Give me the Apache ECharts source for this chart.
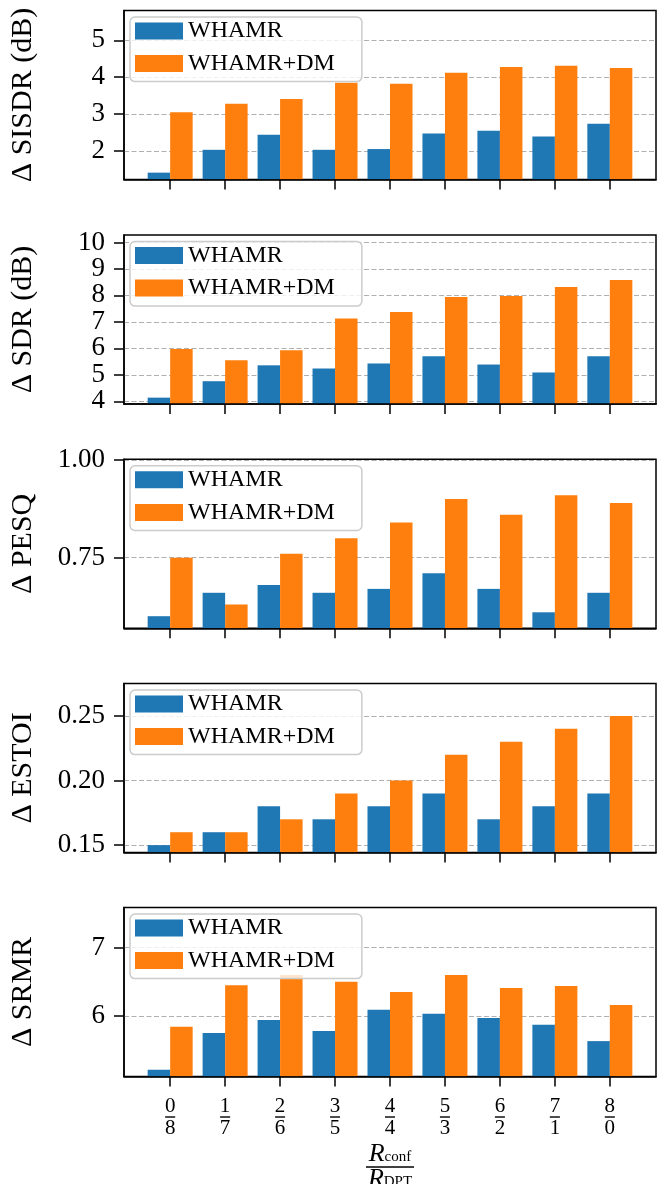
<!DOCTYPE html>
<html><head><meta charset="utf-8">
<script src="https://cdn.jsdelivr.net/npm/echarts@6/dist/echarts.min.js"></script>
<style>html,body{margin:0;padding:0;background:#fff}#c{width:657px;height:1184px}</style>
</head><body><div id="c"></div>
<script>
// ---- data ----
const numerators = ['0','1','2','3','4','5','6','7','8'];
const denominators = ['8','7','6','5','4','3','2','1','0'];
const seriesNames = ['WHAMR', 'WHAMR+DM'];
const metricNames = ['Δ SISDR (dB)', 'Δ SDR (dB)', 'Δ PESQ', 'Δ ESTOI', 'Δ SRMR'];
const sisdrWhamr = [1.41, 2.03, 2.44, 2.03, 2.05, 2.47, 2.55, 2.39, 2.74];
const sisdrDm    = [3.05, 3.28, 3.41, 3.85, 3.82, 4.12, 4.28, 4.31, 4.25];
const sdrWhamr   = [4.14, 4.76, 5.36, 5.24, 5.43, 5.70, 5.39, 5.09, 5.70];
const sdrDm      = [5.98, 5.55, 5.93, 7.13, 7.37, 7.94, 7.98, 8.32, 8.58];
const pesqWhamr  = [0.60, 0.66, 0.68, 0.66, 0.67, 0.71, 0.67, 0.61, 0.66];
const pesqDm     = [0.75, 0.63, 0.76, 0.80, 0.84, 0.90, 0.86, 0.91, 0.89];
const estoiWhamr = [0.15, 0.16, 0.18, 0.17, 0.18, 0.19, 0.17, 0.18, 0.19];
const estoiDm    = [0.16, 0.16, 0.17, 0.19, 0.20, 0.22, 0.23, 0.24, 0.25];
const srmrWhamr  = [5.21, 5.75, 5.94, 5.78, 6.09, 6.03, 5.97, 5.87, 5.63];
const srmrDm     = [5.84, 6.45, 6.60, 6.50, 6.35, 6.60, 6.41, 6.44, 6.16];
const sisdrTicks = [2, 3, 4, 5];
const sdrTicks   = [4, 5, 6, 7, 8, 9, 10];
const pesqTicks  = [0.75, 1.00];
const estoiTicks = [0.15, 0.20, 0.25];
const srmrTicks  = [6, 7];

// ---- layout ----
const FONT = 'Liberation Serif';
const colors = ['#1f77b4', '#ff7f0e'];
const panels = [
  {name: metricNames[0], a: sisdrWhamr, b: sisdrDm, ticks: sisdrTicks, dec: 0, min: 1.224, max: 5.81, top: 10.5},
  {name: metricNames[1], a: sdrWhamr, b: sdrDm, ticks: sdrTicks, dec: 0, min: 3.90, max: 10.28, top: 235},
  {name: metricNames[2], a: pesqWhamr, b: pesqDm, ticks: pesqTicks, dec: 2, min: 0.569, max: 1.002, top: 459.3},
  {name: metricNames[3], a: estoiWhamr, b: estoiDm, ticks: estoiTicks, dec: 2, min: 0.1443, max: 0.2751, top: 683.5},
  {name: metricNames[4], a: srmrWhamr, b: srmrDm, ticks: srmrTicks, dec: 0, min: 5.111, max: 7.59, top: 907.5}
];
const H = 169;
const catPos = numerators.map((_, i) => i);

const option = {animation: false, grid: [], xAxis: [], yAxis: [], series: [], legend: []};
panels.forEach((p, i) => {
  const last = i === panels.length - 1;
  option.grid.push({left: 124, width: 532, top: p.top, height: H, show: true, containLabel: false,
    outerBoundsMode: 'none',
    borderColor: '#000', borderWidth: 1.5, backgroundColor: 'transparent'});
  option.xAxis.push({
    type: 'value', gridIndex: i, min: -0.84, max: 8.84, z: 3,
    axisLine: {show: true, onZero: false, lineStyle: {color: '#000', width: 1.5}},
    axisTick: {show: true, customValues: catPos, length: 10, inside: false, lineStyle: {color: '#000', width: 1.5}},
    splitLine: {show: false},
    axisLabel: {
      show: last, customValues: catPos, margin: 21, align: 'center', showMinLabel: true, showMaxLabel: true,
      formatter: v => { const k = Math.round(v); return '{n|' + numerators[k] + '}\n{h|}\n{n|' + denominators[k] + '}'; },
      rich: {
        n: {fontFamily: FONT, fontSize: 21, lineHeight: 17, color: '#000', align: 'center'},
        h: {width: 10, height: 0, borderWidth: 0.9, borderColor: '#000', lineHeight: 5, align: 'center'}
      }
    },
    name: last ? '{r|R}{s|conf}\n{h|}\n{r|R}{s|DPT}' : '',
    nameLocation: 'middle', nameGap: 68,
    nameTextStyle: {
      align: 'center',
      rich: {
        r: {fontFamily: FONT, fontStyle: 'italic', fontSize: 26, lineHeight: 20, color: '#000'},
        s: {fontFamily: FONT, fontSize: 15, lineHeight: 12, verticalAlign: 'bottom', color: '#000'},
        h: {width: 48, height: 0, borderWidth: 1, borderColor: '#000', lineHeight: 5, align: 'center'}
      }
    }
  });
  // labels split into two interleaved groups so that none gets auto-hidden
  const evenTicks = p.ticks.filter((_, k) => k % 2 === 0);
  const oddTicks = p.ticks.filter((_, k) => k % 2 === 1);
  const labelStyle = {formatter: v => v.toFixed(p.dec), fontFamily: FONT, fontSize: 27,
    color: '#000', margin: 19, showMinLabel: true, showMaxLabel: true};
  const mainIndex = option.yAxis.length;
  option.yAxis.push({
    type: 'value', gridIndex: i, min: p.min, max: p.max, position: 'left',
    axisLine: {show: true, onZero: false, lineStyle: {color: '#000', width: 1.5}},
    axisTick: {show: true, customValues: p.ticks, length: 10, inside: false, lineStyle: {color: '#000', width: 1.5}},
    axisLabel: Object.assign({customValues: evenTicks}, labelStyle),
    splitLine: {show: true, lineStyle: {color: '#b0b0b0', width: 1, type: [5, 2.5]}},
    name: p.name, nameLocation: 'middle', nameGap: 86,
    nameTextStyle: {fontFamily: FONT, fontSize: 30, color: '#000'}
  });
  if (oddTicks.length) {
    option.yAxis.push({
      type: 'value', gridIndex: i, min: p.min, max: p.max, position: 'left', offset: 0,
      axisLine: {show: false, onZero: false}, axisTick: {show: false}, splitLine: {show: false},
      axisLabel: Object.assign({customValues: oddTicks}, labelStyle)
    });
  }
  [p.a, p.b].forEach((arr, s) => {
    option.series.push({
      type: 'bar', name: seriesNames[s], xAxisIndex: i, yAxisIndex: mainIndex,
      data: arr.map((v, j) => [catPos[j], v]),
      barWidth: 22.5, barGap: '0%', itemStyle: {color: colors[s]}, silent: true
    });
  });
  option.legend.push({
    data: seriesNames, orient: 'vertical', left: 130, top: p.top + 6.5,
    itemWidth: 48, itemHeight: 17, itemGap: 8.6, icon: 'rect', selectedMode: false,
    padding: [2, 27, 6, 5], backgroundColor: 'rgba(255,255,255,0.8)',
    borderColor: '#cccccc', borderWidth: 1.5, borderRadius: 5,
    textStyle: {fontFamily: FONT, fontSize: 24, lineHeight: 24, color: '#000'}
  });
});

const chart = echarts.init(document.getElementById('c'), null, {renderer: 'canvas'});
chart.setOption(option);
</script></body></html>
